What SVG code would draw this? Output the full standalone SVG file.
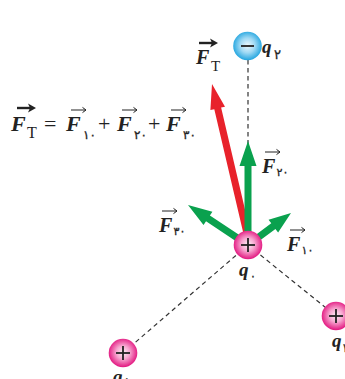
<svg xmlns="http://www.w3.org/2000/svg" xmlns:xlink="http://www.w3.org/1999/xlink" width="345" height="379" viewBox="0 0 345 379">
<defs>
<radialGradient id="pink" cx="50%" cy="48%" r="52%">
<stop offset="0" stop-color="#fdf0f6"/>
<stop offset="0.45" stop-color="#f7a6d0"/>
<stop offset="1" stop-color="#e2157f"/>
</radialGradient>
<radialGradient id="blue" cx="50%" cy="48%" r="52%">
<stop offset="0" stop-color="#eef9fe"/>
<stop offset="0.5" stop-color="#9fd9f4"/>
<stop offset="1" stop-color="#22a5df"/>
</radialGradient>
<path id="vthin" d="M0,0 H15 M11.5,-2.6 L15,0 L11.5,2.6" fill="none" stroke="#222" stroke-width="1"/>
<g id="vbold"><path d="M0,0 H14" stroke="#222" stroke-width="2.4"/><path d="M11,-4.5 L19,0 L11,4.5 L13,0 Z" fill="#222"/></g>
</defs>
<style>
.dash{stroke:#333;stroke-width:1.2;stroke-dasharray:4.5 3.5;fill:none}
.red{fill:#e8222b}
.green{fill:#0aa14e}
.ball{stroke:none}
.sign{stroke:#222;stroke-width:1.8;fill:none}
.F{font-family:"Liberation Serif",serif;font-weight:bold;font-style:italic;fill:#222}
.q{font-family:"Liberation Serif",serif;font-weight:bold;font-style:italic;font-size:19px;fill:#222}
.sub{font-family:"DejaVu Sans","Noto Sans",sans-serif;fill:#222;stroke:#222;stroke-width:0.3}
.rm{font-family:"Liberation Serif",serif;fill:#222}
</style>

<g id="connectors">
<line class="dash" x1="248" y1="60" x2="248" y2="245"/>
<line class="dash" x1="248" y1="245" x2="123" y2="353"/>
<line class="dash" x1="248" y1="245" x2="336" y2="316"/>
</g>

<g id="forces">
<polygon id="FT" class="red" points="252.41,241.2 221.11,107.54 225,106.63 212,84 210.4,110.05 214.29,109.14 245.59,242.8"/>
<polygon id="F20" class="green" points="251.5,245 251.5,166 256.5,166 248,141 239.5,166 244.5,166 244.5,245"/>
<polygon id="F30" class="green" points="249.94,242.09 209.91,215.4 212.41,211.65 188,205 203.53,224.97 206.03,221.22 246.06,247.91"/>
<polygon id="F10" class="green" points="250.09,247.81 275.44,228.94 278.13,232.55 291,213 268.57,219.71 271.26,223.32 245.91,242.19"/>
</g>

<g id="q2">
<circle class="ball" cx="247.5" cy="46" r="14.3" fill="url(#blue)"/>
<line class="sign" x1="241" y1="46" x2="254" y2="46"/>
<text class="q" x="262" y="53">q</text>
<text class="sub" x="274" y="59" font-size="13">۲</text>
</g>

<g id="q0">
<circle class="ball" cx="248" cy="245" r="14.3" fill="url(#pink)"/>
<line class="sign" x1="241" y1="245" x2="255" y2="245"/>
<line class="sign" x1="248" y1="238" x2="248" y2="252"/>
<text class="q" x="239" y="276">q</text>
<text class="sub" x="250" y="280" font-size="11">۰</text>
</g>

<g id="q1">
<circle class="ball" cx="123" cy="353" r="14.3" fill="url(#pink)"/>
<line class="sign" x1="116" y1="353" x2="130" y2="353"/>
<line class="sign" x1="123" y1="346" x2="123" y2="360"/>
<text class="q" x="113" y="383">q</text>
<text class="sub" x="124.5" y="386" font-size="12">۱</text>
</g>

<g id="q3">
<circle class="ball" cx="336" cy="316" r="14.3" fill="url(#pink)"/>
<line class="sign" x1="329" y1="316" x2="343" y2="316"/>
<line class="sign" x1="336" y1="309" x2="336" y2="323"/>
<text class="q" x="332" y="347">q</text>
<text class="sub" x="343" y="352" font-size="12">۳</text>
</g>

<g id="label-FT">
<use xlink:href="#vbold" x="199" y="43"/>
<text class="F" x="196" y="64" font-size="20">F</text>
<text class="rm" x="211" y="71" font-size="15">T</text>
</g>

<g id="label-F20">
<use xlink:href="#vthin" x="265" y="152"/>
<text class="F" x="262" y="173" font-size="20">F</text>
<text class="sub" x="276.5" y="176" font-size="11">۲۰</text>
</g>

<g id="label-F30">
<use xlink:href="#vthin" x="162" y="211"/>
<text class="F" x="159" y="232" font-size="20">F</text>
<text class="sub" x="173.5" y="235" font-size="11">۳۰</text>
</g>

<g id="label-F10">
<use xlink:href="#vthin" x="290" y="230"/>
<text class="F" x="287" y="251" font-size="20">F</text>
<text class="sub" x="301.5" y="254" font-size="11">۱۰</text>
</g>

<g id="formula">
<use xlink:href="#vbold" x="17" y="108"/>
<text class="F" x="11" y="131" font-size="22">F</text>
<text class="rm" x="27" y="138" font-size="16">T</text>
<text class="rm" x="44" y="131" font-size="22">=</text>
<use xlink:href="#vthin" x="71" y="110"/>
<text class="F" x="66" y="131" font-size="22">F</text>
<text class="sub" x="83" y="139" font-size="12">۱۰</text>
<text class="rm" x="98" y="131" font-size="22">+</text>
<use xlink:href="#vthin" x="122" y="110"/>
<text class="F" x="117" y="131" font-size="22">F</text>
<text class="sub" x="134" y="139" font-size="12">۲۰</text>
<text class="rm" x="148" y="131" font-size="22">+</text>
<use xlink:href="#vthin" x="171" y="110"/>
<text class="F" x="166" y="131" font-size="22">F</text>
<text class="sub" x="183" y="139" font-size="12">۳۰</text>
</g>
</svg>
